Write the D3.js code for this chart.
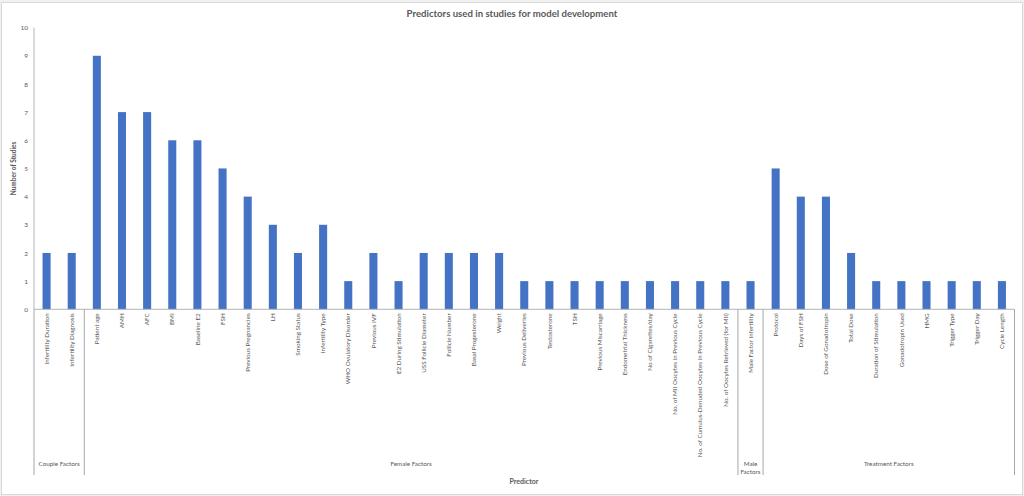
<!DOCTYPE html>
<html>
<head>
<meta charset="utf-8">
<script src="https://cdn.jsdelivr.net/npm/d3@7"></script>
<style>
  html, body { margin: 0; padding: 0; background: #f0f0f0; }
  svg { display: block; font-family: Lato, "Open Sans", sans-serif; }
</style>
</head>
<body>
<svg id="chart" width="1024" height="496"></svg>
<script>
// Predictor names, in the order they appear on the x axis
const predictors = [
  'Infertility Duration', 'Infertility Diagnosis',
  'Patient age', 'AMH', 'AFC', 'BMI', 'Baseline E2', 'FSH', 'Previous Pregnancies', 'LH',
  'Smoking Status', 'Infertility Type', 'WHO Ovulatory Disorder', 'Previous IVF',
  'E2 During Stimulation', 'USS Follicle Diameter', 'Follicle Number', 'Basal Progesterone',
  'Weight', 'Previous Deliveries', 'Testosterone', 'TSH', 'Previous Miscarriage',
  'Endometrial Thickness', 'No of Cigarettes/day', 'No. of MII Oocytes in Previous Cycle',
  'No. of Cumulus-Denuded Oocytes in Previous Cycle', 'No. of Oocytes Retrieved (for MII)',
  'Male Factor Infertility',
  'Protocol', 'Days of FSH', 'Dose of Gonadotropin', 'Total Dose', 'Duration of Stimulation',
  'Gonadotropin Used', 'HMG', 'Trigger Type', 'Trigger Day', 'Cycle Length'
];

// Number of studies using each predictor
const studies = [
  2, 2,
  9, 7, 7, 6, 6, 5, 4, 3, 2, 3, 1, 2, 1, 2, 2, 2, 2, 1, 1, 1, 1, 1, 1, 1, 1, 1,
  1,
  5, 4, 4, 2, 1, 1, 1, 1, 1, 1
];

// Outer category groups and how many predictors each one holds
const groupNames = ['Couple Factors', 'Female Factors', 'Male Factors', 'Treatment Factors'];
const groupSizes = [2, 26, 1, 10];

const yTicks = d3.range(0, 11);

const svg = d3.select('#chart');
const W = 1024, H = 496;
const plotLeft = 34, plotRight = 1014.5, plotTop = 27.6, plotBottom = 309.3;
const sepBottom = 475;

const textColor = '#595959';

// background card
svg.append('rect')
  .attr('x', 1.5).attr('y', 2.5)
  .attr('width', W - 3).attr('height', H - 4)
  .attr('fill', '#fff')
  .attr('stroke', '#d9d9d9');

// scales
const x = d3.scaleBand()
  .domain(predictors)
  .range([plotLeft, plotRight])
  .padding(0);

const y = d3.scaleLinear()
  .domain([0, 10])
  .range([plotBottom, plotTop]);

const barW = x.bandwidth() * 0.32;

// title
svg.append('text')
  .attr('x', 512).attr('y', 16.5)
  .attr('text-anchor', 'middle')
  .attr('font-size', 9.6)
  .attr('font-weight', 'bold')
  .attr('fill', textColor)
  .text('Predictors used in studies for model development');

// y axis
const yAxis = d3.axisLeft(y)
  .tickValues(yTicks)
  .tickSize(0)
  .tickPadding(6);

const yAxisG = svg.append('g')
  .attr('transform', `translate(${plotLeft},0)`)
  .call(yAxis);
yAxisG.select('.domain').remove();
yAxisG.selectAll('text')
  .attr('font-family', 'Lato, sans-serif')
  .attr('font-size', 6.5)
  .attr('fill', textColor);

// bars
svg.append('g')
  .selectAll('rect')
  .data(predictors)
  .join('rect')
  .attr('x', d => x(d) + (x.bandwidth() - barW) / 2)
  .attr('y', (d, i) => y(studies[i]))
  .attr('width', barW)
  .attr('height', (d, i) => y(0) - y(studies[i]))
  .attr('fill', '#4472c4');

// axis lines
svg.append('line')
  .attr('x1', plotLeft).attr('x2', plotRight)
  .attr('y1', plotBottom).attr('y2', plotBottom)
  .attr('stroke', '#b3b3b3')
  .attr('stroke-width', 1);

svg.append('line')
  .attr('x1', plotLeft).attr('x2', plotLeft)
  .attr('y1', plotTop).attr('y2', plotBottom)
  .attr('stroke', '#b3b3b3')
  .attr('stroke-width', 1);

// predictor labels (rotated)
svg.append('g')
  .selectAll('text')
  .data(predictors)
  .join('text')
  .attr('transform', d => `translate(${x(d) + x.bandwidth() / 2},${plotBottom + 4}) rotate(-90)`)
  .attr('text-anchor', 'end')
  .attr('dy', '0.35em')
  .attr('font-size', 6.3)
  .attr('fill', textColor)
  .text(d => d);

// group separators and labels
let start = 0;
const bounds = [plotLeft];
groupSizes.forEach((n, gi) => {
  const first = predictors[start];
  const last = predictors[start + n - 1];
  const x0 = x(first);
  const x1 = x(last) + x.bandwidth();
  bounds.push(x1);

  const label = svg.append('text')
    .attr('x', (x0 + x1) / 2)
    .attr('y', 465.5)
    .attr('text-anchor', 'middle')
    .attr('font-size', 6.3)
    .attr('fill', textColor);

  // narrow group: wrap name onto two lines
  const words = groupNames[gi].split(' ');
  if (x1 - x0 < 40) {
    words.forEach((w, k) => {
      label.append('tspan')
        .attr('x', (x0 + x1) / 2)
        .attr('dy', k === 0 ? 0 : 8.5)
        .text(w);
    });
  } else {
    label.text(groupNames[gi]);
  }
  start += n;
});

svg.append('g')
  .selectAll('line')
  .data(bounds)
  .join('line')
  .attr('x1', d => d).attr('x2', d => d)
  .attr('y1', plotBottom).attr('y2', sepBottom)
  .attr('stroke', '#a6a6a6')
  .attr('stroke-width', 1);

// axis titles
svg.append('text')
  .attr('x', 524).attr('y', 484)
  .attr('text-anchor', 'middle')
  .attr('font-size', 7)
  .attr('font-weight', 'bold')
  .attr('fill', textColor)
  .text('Predictor');

svg.append('text')
  .attr('transform', `translate(16,${(plotTop + plotBottom) / 2}) rotate(-90)`)
  .attr('text-anchor', 'middle')
  .attr('font-size', 6.5)
  .attr('font-weight', 'bold')
  .attr('fill', textColor)
  .text('Number of Studies');
</script>
</body>
</html>
